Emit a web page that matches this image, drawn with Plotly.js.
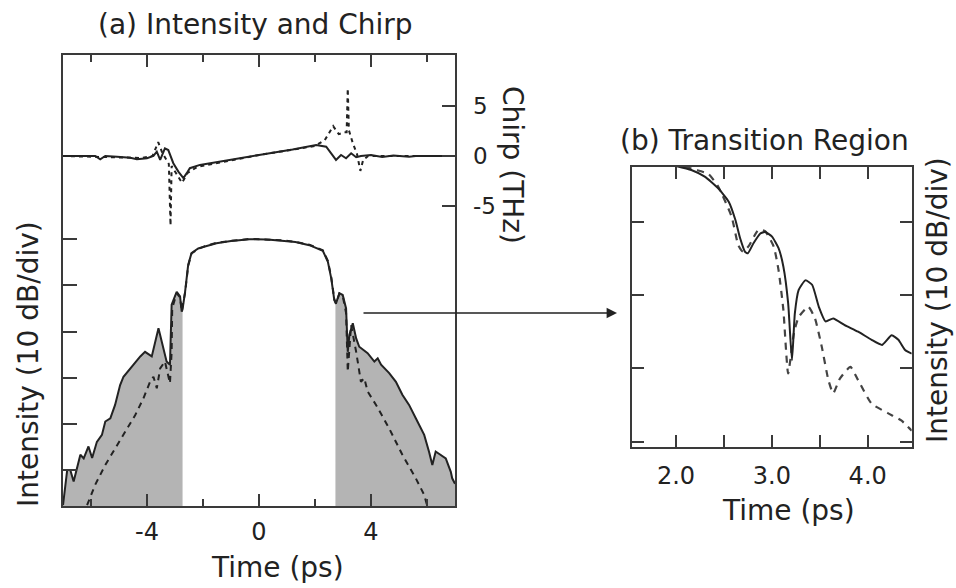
<!DOCTYPE html>
<html>
<head>
<meta charset="utf-8">
<script src="https://cdn.plot.ly/plotly-3.0.1.min.js"></script>
<style>
  html, body { margin: 0; padding: 0; background: #fff; }
  #chart { width: 956px; height: 588px; }
</style>
</head>
<body>
<div id="chart"></div>
<script>
// ---- (a) intensity, simulated (solid) and model (dashed), dB relative to peak ----
const timeA = [-7.0, -6.85, -6.74, -6.62, -6.38, -6.26, -6.09, -5.96, -5.79, -5.61, -5.49, -5.31, -5.14, -4.96, -4.84, -4.60, -4.42, -4.24, -4.07, -3.83, -3.59, -3.42, -3.30, -3.18, -3.12, -2.94, -2.82, -2.76, -2.73, -2.64, -2.53, -2.41, -2.17, -1.93, -1.52, -1.0, -0.33, 0.3, 0.85, 1.3, 1.8, 2.28, 2.46, 2.58, 2.69, 2.73, 2.75, 2.87, 2.99, 3.11, 3.17, 3.23, 3.35, 3.47, 3.58, 3.88, 4.12, 4.24, 4.36, 4.65, 4.89, 5.12, 5.36, 5.60, 5.90, 6.07, 6.19, 6.31, 6.49, 6.67, 6.85, 6.90, 7.0];
const intensityA = [-57.6, -50, -50, -52.5, -46.7, -47.5, -44.9, -47.4, -43.9, -42.4, -39.5, -38.8, -35.9, -31.6, -29.8, -28.0, -26.9, -25.4, -24.4, -25.4, -19.3, -23.6, -26.5, -27.2, -14.2, -11.4, -12.4, -15.7, -15.2, -11.4, -5.6, -3.0, -2.0, -1.6, -0.87, -0.4, 0, -0.05, -0.3, -0.6, -1.3, -2.5, -4.9, -8.5, -13.2, -13.8, -13.9, -11.7, -12.1, -15.0, -24.4, -20.7, -18.2, -21.5, -23.3, -24.7, -26.5, -25.8, -27.2, -29.0, -30.9, -33.7, -35.9, -38.8, -42.4, -46.0, -48.9, -46.0, -46.7, -47.5, -50.4, -51.8, -53.0];

const timeAModel = [-6.14, -5.85, -5.49, -5.14, -4.78, -4.42, -4.13, -3.89, -3.77, -3.65, -3.53, -3.36, -3.18, -3.12, -3.10, -2.94, -2.82, -2.76, -2.64, -2.53, -2.41, -2.17, -1.93, -1.52, -1.0, -0.33, 0.3, 0.85, 1.3, 1.8, 2.28, 2.46, 2.58, 2.69, 2.75, 2.87, 2.99, 3.11, 3.17, 3.29, 3.47, 3.64, 3.76, 3.88, 4.18, 4.65, 5.12, 5.60, 5.90, 5.96, 6.0];
const intensityAModel = [-57.6, -53.2, -48.9, -45.3, -41.7, -38.1, -34.5, -30.9, -29.8, -32.3, -28.0, -26.5, -31.2, -24.4, -15.0, -11.7, -12.6, -15.5, -11.6, -5.8, -3.1, -2.1, -1.5, -0.8, -0.35, 0.05, -0.1, -0.25, -0.6, -1.2, -2.4, -4.7, -8.2, -13.0, -14.0, -11.8, -12.3, -16.0, -28.7, -18.6, -24.4, -30.9, -30.1, -33.0, -35.9, -41.0, -46.7, -51.8, -55.4, -56.8, -57.6];

// pulse wings outside |t| > shadeEdge are shaded
const shadeEdge = 2.73;

// ---- (a) chirp, THz ----
const timeChirp = [-7.0, -6.3, -5.85, -5.67, -5.49, -5.07, -4.60, -4.36, -4.0, -3.77, -3.65, -3.53, -3.36, -3.24, -3.06, -2.88, -2.70, -2.58, -2.47, -2.11, -1.2, 0, 1.2, 2.04, 2.40, 2.63, 2.75, 2.93, 3.11, 3.29, 3.47, 3.64, 4.0, 4.4, 4.8, 5.36, 5.6, 7.0];
const chirp = [0, 0, 0, -0.33, 0, -0.07, -0.17, -0.33, -0.23, 0, 0.43, -0.4, 0.77, 0.6, -0.73, -1.57, -2.23, -1.73, -1.23, -0.9, -0.5, 0.1, 0.65, 1.1, 0.93, 0.1, -0.4, 0.1, -0.23, 0.27, -0.13, 0, 0.1, -0.1, 0.05, -0.07, 0, 0];
const timeChirpModel = [-7.0, -4.2, -3.8, -3.6, -3.45, -3.22, -3.16, -3.12, -2.95, -2.75, -2.55, -2.2, 0, 2.0, 2.35, 2.55, 2.65, 2.85, 3.05, 3.13, 3.17, 3.21, 3.35, 3.5, 3.62, 3.72, 3.9, 7.0];
const chirpModel = [0, -0.2, 0.0, 1.4, 0.3, -0.8, -7.0, -1.0, -1.8, -2.7, -1.7, -1.1, 0.1, 1.0, 1.6, 2.6, 3.0, 2.2, 2.4, 2.4, 6.8, 2.6, 1.3, 0.2, -1.5, -0.4, 0, 0];

// ---- (b) transition region, dB ----
const timeB = [2.00, 2.16, 2.30, 2.44, 2.55, 2.62, 2.67, 2.72, 2.75, 2.81, 2.88, 2.93, 3.00, 3.07, 3.12, 3.17, 3.21, 3.24, 3.28, 3.35, 3.42, 3.49, 3.56, 3.64, 3.76, 3.90, 4.04, 4.15, 4.25, 4.32, 4.39, 4.46];
const intensityB = [-2.4, -2.95, -3.86, -5.44, -7.27, -9.77, -12.3, -14.1, -14.3, -12.9, -11.6, -11.4, -12.0, -13.6, -16.1, -21.1, -28.9, -22.5, -19.3, -18.0, -18.6, -21.6, -23.6, -23.2, -24.1, -25.0, -26.1, -26.8, -25.5, -26.1, -27.5, -28.0];
const timeBModel = [2.09, 2.20, 2.34, 2.44, 2.58, 2.65, 2.70, 2.76, 2.86, 2.93, 3.02, 3.07, 3.12, 3.17, 3.23, 3.28, 3.38, 3.45, 3.52, 3.59, 3.64, 3.71, 3.82, 3.90, 4.04, 4.21, 4.35, 4.46];
const intensityBModel = [-2.5, -2.9, -3.5, -5.2, -9.3, -13.2, -14.1, -13.3, -11.1, -11.3, -13.4, -16.6, -22.0, -30.7, -25.2, -23.0, -21.6, -23.2, -27.0, -31.6, -33.4, -31.4, -29.8, -31.6, -34.8, -36.1, -37.1, -38.5];

// ---- tick labels ----
const timeTicksA = [-4, 0, 4];
const timeTickTextA = ['-4', '0', '4'];
const timeMinorA = [-6, -2, 2, 6];
const dbTicksA = [0, -10, -20, -30, -40, -50];
const chirpTicks = [-5, 0, 5];
const chirpTickText = ['-5', '0', '5'];
const timeTicksB = [2.0, 2.5, 3.0, 3.5, 4.0];
const timeTickTextB = ['2.0', '', '3.0', '', '4.0'];
const dbTicksB = [-10, -20, -30, -40];

// ---- axis ranges ----
const timeRangeA = [-7, 7];
const dbRangeA = [-57.8, 39.9];
const chirpRange = [-35.25, 10.17];
const timeRangeB = [1.538, 4.459];
const dbRangeB = [-40.68, -2.5];

// ---- page geometry (pixels) ----
const W = 956, H = 588;
const px = v => v / W;
const py = v => 1 - v / H;

const INK = '#222222';
const FRAME = '#3a3a3a';
const SHADE = '#b4b4b4';
const FONT = 'DejaVu Sans, sans-serif';

function pick(ts, vs, keep) {
  const x = [], y = [];
  ts.forEach((t, i) => { if (keep(t)) { x.push(t); y.push(vs[i]); } });
  return { x, y };
}
const leftWing = pick(timeA, intensityA, t => t <= -shadeEdge);
const rightWing = pick(timeA, intensityA, t => t >= shadeEdge);

const floorTrace = (xs) => ({
  x: [xs[0], xs[xs.length - 1]], y: [dbRangeA[0], dbRangeA[0]],
  xaxis: 'x', yaxis: 'y', mode: 'lines', line: { width: 0 },
  hoverinfo: 'skip', showlegend: false
});
const wingTrace = (w) => ({
  x: w.x, y: w.y, xaxis: 'x', yaxis: 'y', mode: 'lines',
  line: { width: 0 }, fill: 'tonexty', fillcolor: SHADE,
  hoverinfo: 'skip', showlegend: false
});

const traces = [
  floorTrace(leftWing.x), wingTrace(leftWing),
  floorTrace(rightWing.x), wingTrace(rightWing),
  { x: timeAModel, y: intensityAModel, xaxis: 'x', yaxis: 'y', mode: 'lines',
    line: { color: INK, width: 2, dash: '6px,5px' }, showlegend: false },
  { x: timeA, y: intensityA, xaxis: 'x', yaxis: 'y', mode: 'lines',
    line: { color: INK, width: 2 }, showlegend: false },
  { x: timeChirpModel, y: chirpModel, xaxis: 'x', yaxis: 'y2', mode: 'lines',
    line: { color: INK, width: 2, dash: '4px,4px' }, showlegend: false },
  { x: timeChirp, y: chirp, xaxis: 'x', yaxis: 'y2', mode: 'lines',
    line: { color: INK, width: 2 }, showlegend: false },
  { x: timeBModel, y: intensityBModel, xaxis: 'x3', yaxis: 'y3', mode: 'lines',
    line: { color: '#444', width: 2.2, dash: '7px,6px', shape: 'spline', smoothing: 0.5 }, showlegend: false },
  { x: timeB, y: intensityB, xaxis: 'x3', yaxis: 'y3', mode: 'lines',
    line: { color: INK, width: 2, shape: 'spline', smoothing: 0.5 }, showlegend: false }
];

const tickFont = { family: FONT, size: 24, color: INK };
const baseAxis = {
  showgrid: false, zeroline: false, showline: true, linecolor: FRAME, linewidth: 2,
  ticks: 'inside', tickcolor: FRAME, tickwidth: 2, automargin: false, fixedrange: true
};

const label = (text, x, y, angle) => ({
  text, x: px(x), y: py(y), xref: 'paper', yref: 'paper',
  xanchor: 'center', yanchor: 'middle', textangle: angle || 0,
  showarrow: false, font: { family: FONT, size: 28, color: INK }
});

const layout = {
  width: W, height: H,
  margin: { l: 0, r: 0, t: 0, b: 0 },
  paper_bgcolor: '#fff', plot_bgcolor: 'rgba(0,0,0,0)',
  showlegend: false,
  xaxis: Object.assign({}, baseAxis, {
    domain: [px(63), px(455)], anchor: 'y', range: timeRangeA,
    tickvals: timeTicksA, ticktext: timeTickTextA, ticklen: 12, mirror: 'ticks',
    minor: { tickvals: timeMinorA, ticks: 'inside', ticklen: 7, tickcolor: FRAME, tickwidth: 2 },
    tickfont: tickFont, ticklabelstandoff: 3
  }),
  yaxis: Object.assign({}, baseAxis, {
    domain: [py(506), py(55)], anchor: 'x', range: dbRangeA,
    tickvals: dbTicksA, showticklabels: false, ticklen: 14, mirror: true
  }),
  yaxis2: Object.assign({}, baseAxis, {
    overlaying: 'y', side: 'right', anchor: 'x', range: chirpRange, showline: false,
    tickvals: chirpTicks, ticktext: chirpTickText, ticklen: 13,
    tickfont: { family: FONT, size: 23, color: INK }, ticklabelstandoff: 17
  }),
  xaxis3: Object.assign({}, baseAxis, {
    domain: [px(631.7), px(911.7)], anchor: 'y3', range: timeRangeB,
    tickvals: timeTicksB, ticktext: timeTickTextB, ticklen: 12, mirror: 'ticks',
    tickfont: tickFont, ticklabelstandoff: 6
  }),
  yaxis3: Object.assign({}, baseAxis, {
    domain: [py(446.7), py(166.7)], anchor: 'x3', range: dbRangeB,
    tickvals: dbTicksB, showticklabels: false, ticklen: 12, mirror: 'ticks'
  }),
  annotations: [
    label('(a) Intensity and Chirp', 256, 24),
    label('Time (ps)', 277, 567),
    label('Intensity (10 dB/div)', 28, 364, -90),
    label('Chirp (THz)', 512, 165, 90),
    label('(b) Transition Region', 764, 140),
    label('Intensity (10 dB/div)', 937, 300, -90),
    label('Time (ps)', 788, 510),
    { text: '', x: px(617), y: py(313), xref: 'paper', yref: 'paper',
      showarrow: true, ax: -255, ay: 0, arrowhead: 2, arrowsize: 1.3, arrowwidth: 1.6,
      arrowcolor: INK, standoff: 0 }
  ]
};

Plotly.newPlot('chart', traces, layout, { staticPlot: true, displayModeBar: false });
</script>
</body>
</html>
